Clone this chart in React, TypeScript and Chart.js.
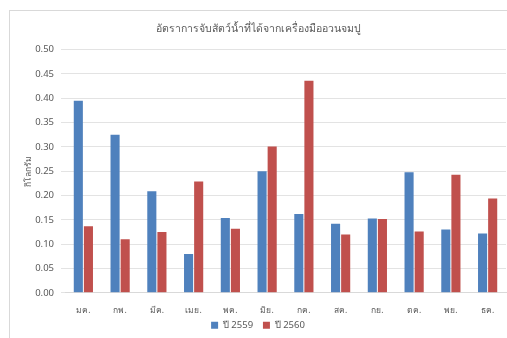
import React, { useEffect, useRef } from "react";
import { Chart, registerables } from "chart.js";

Chart.register(...registerables);

const months = ["มค.", "กพ.", "มีค.", "เมย.", "พค.", "มิย.", "กค.", "สค.", "กย.", "ตค.", "พย.", "ธค."];
const y2559 = [0.395, 0.325, 0.209, 0.08, 0.154, 0.25, 0.162, 0.142, 0.153, 0.248, 0.13, 0.122];
const y2560 = [0.137, 0.11, 0.125, 0.229, 0.132, 0.301, 0.436, 0.12, 0.152, 0.126, 0.243, 0.194];
const seriesNames = ["ปี 2559", "ปี 2560"];
const titleText = "อัตราการจับสัตว์น้ำที่ได้จากเครื่องมืออวนจมปู";
const yTitle = "กิโลกรัม";

const FONT = "'Noto Sans', 'DejaVu Sans', sans-serif";
const GREY = "#595959";

export default function App() {
  const ref = useRef<HTMLCanvasElement>(null);
  useEffect(() => {
    if (!ref.current) return;
    const chart = new Chart(ref.current, {
      type: "bar",
      data: {
        labels: months,
        datasets: [
          { label: seriesNames[0], data: y2559, backgroundColor: "#4F81BD", categoryPercentage: 0.55, barPercentage: 0.9 },
          { label: seriesNames[1], data: y2560, backgroundColor: "#C0504D", categoryPercentage: 0.55, barPercentage: 0.9 },
        ],
      },
      options: {
        animation: false,
        responsive: false,
        layout: { padding: { top: 8, right: 8, left: 0, bottom: 3 } },
        plugins: {
          title: {
            display: true,
            text: titleText,
            color: GREY,
            font: { family: FONT, size: 10.5, weight: "normal" },
            padding: { top: 4, bottom: 14 },
          },
          legend: {
            position: "bottom",
            labels: {
              color: GREY,
              font: { family: FONT, size: 9.5 },
              boxWidth: 7,
              boxHeight: 7,
              padding: 0,
              generateLabels: (c: any) => {
                const items = Chart.defaults.plugins.legend.labels.generateLabels(c);
                return items.map((it: any, i: number) =>
                  i < items.length - 1 ? { ...it, text: it.text + "    " } : it
                );
              },
            },
          },
          tooltip: { enabled: false },
        },
        scales: {
          x: {
            grid: { display: false },
            border: { color: "#d9d9d9" },
            ticks: { color: GREY, font: { family: FONT, size: 8.5, lineHeight: 0.9 }, padding: 6 },
          },
          y: {
            min: 0,
            max: 0.5,
            afterFit: (scale: any) => {
              scale.width = 55;
            },
            ticks: {
              stepSize: 0.05,
              color: GREY,
              font: { family: FONT, size: 9.5 },
              padding: 7,
              callback: (v: any) => Number(v).toFixed(2),
            },
            grid: { color: "#e3e3e3", tickLength: 4 },
            border: { display: false },
            title: { display: true, text: yTitle, color: GREY, font: { family: FONT, size: 8.5 }, padding: 13 },
          },
        },
      },
    });
    return () => chart.destroy();
  }, []);
  return (
    <div style={{ position: "fixed", left: 0, top: 0, width: 507, height: 338, overflow: "hidden", background: "#fff" }}>
      <div style={{ position: "absolute", left: 9, top: 10, width: 504, height: 332, borderLeft: "1px solid #d9d9d9", borderTop: "1px solid #d9d9d9" }}>
        <canvas ref={ref} width={504} height={332} />
      </div>
    </div>
  );
}
